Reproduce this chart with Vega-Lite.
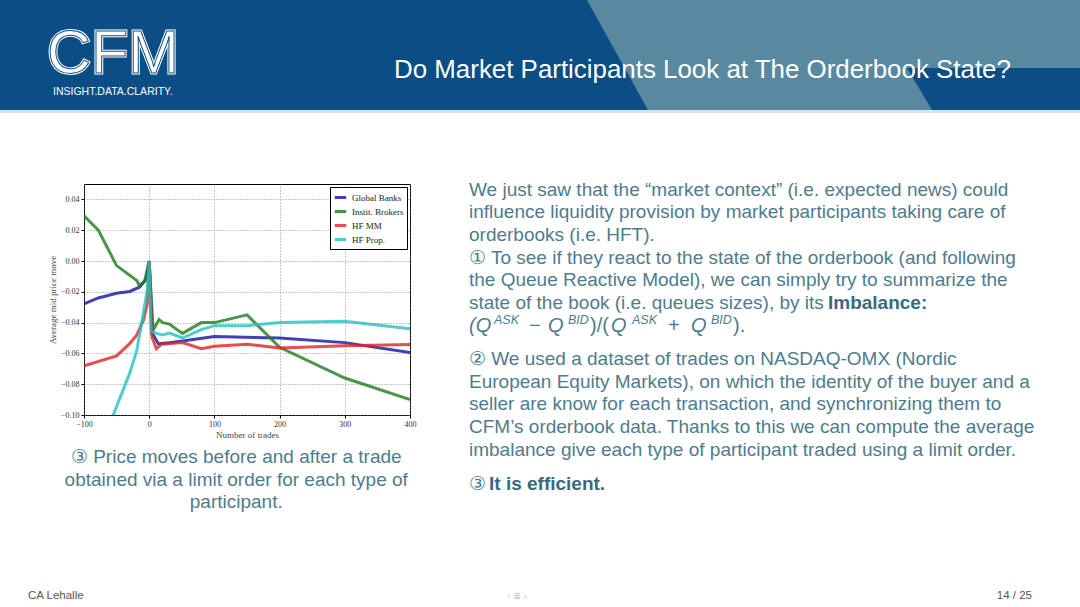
{
  "$schema": "https://vega.github.io/schema/vega-lite/v6.json",
  "background": "white",
  "padding": 0,
  "bounds": "flush",
  "spacing": 0,
  "config": {"view": {"stroke": null}},
  "resolve": {"scale": {"color": "independent"}, "legend": {"color": "independent"}},
  "vconcat": [
    {
      "width": 1080,
      "height": 184,
      "layer": [
        {
          "data": {"values": [{"hx": 0, "top": 0, "bottom": 110}, {"hx": 1080, "top": 0, "bottom": 110}]},
          "mark": {"type": "area", "color": "#0b4d85", "opacity": 1},
          "encoding": {
            "x": {"field": "hx", "type": "quantitative", "scale": {"domain": [0, 1080], "nice": false, "zero": false}, "axis": null},
            "y": {"field": "top", "type": "quantitative", "scale": {"domain": [0, 184], "reverse": true, "nice": false}, "axis": null},
            "y2": {"field": "bottom"}
          }
        },
        {
          "data": {"values": [{"hx": 587, "top": 0, "bottom": 0}, {"hx": 648, "top": 0, "bottom": 110}, {"hx": 1080, "top": 0, "bottom": 110}]},
          "mark": {"type": "area", "color": "#5889a0", "opacity": 1},
          "encoding": {
            "x": {"field": "hx", "type": "quantitative"},
            "y": {"field": "top", "type": "quantitative"},
            "y2": {"field": "bottom"}
          }
        },
        {
          "data": {"values": [{"hx": 907, "top": 68, "bottom": 68}, {"hx": 932, "top": 68, "bottom": 110}, {"hx": 1080, "top": 68, "bottom": 110}]},
          "mark": {"type": "area", "color": "#0b4d85", "opacity": 1},
          "encoding": {
            "x": {"field": "hx", "type": "quantitative"},
            "y": {"field": "top", "type": "quantitative"},
            "y2": {"field": "bottom"}
          }
        },
        {
          "data": {"values": [{"hx": 0, "top": 110, "bottom": 113}, {"hx": 1080, "top": 110, "bottom": 113}]},
          "mark": {"type": "area", "color": "#d3e4f0", "opacity": 1},
          "encoding": {
            "x": {"field": "hx", "type": "quantitative"},
            "y": {"field": "top", "type": "quantitative"},
            "y2": {"field": "bottom"}
          }
        },
        {
          "data": {"values": [{"t": "CFM"}]},
          "mark": {"type": "text", "align": "left", "baseline": "bottom", "font": "Liberation Sans", "fontSize": 61, "fill": "white", "stroke": "white", "strokeWidth": 3},
          "encoding": {
            "x": {"datum": 47, "type": "quantitative"},
            "y": {"datum": 86, "type": "quantitative"},
            "text": {"field": "t"}
          }
        },
        {
          "data": {"values": [{"t": "CFM"}]},
          "mark": {"type": "text", "align": "left", "baseline": "bottom", "font": "Liberation Sans", "fontSize": 61, "fill": "transparent", "stroke": "#0b4d85", "strokeWidth": 1},
          "encoding": {
            "x": {"datum": 47, "type": "quantitative"},
            "y": {"datum": 86, "type": "quantitative"},
            "text": {"field": "t"}
          }
        },
        {
          "data": {"values": [{"t": "INSIGHT.DATA.CLARITY."}]},
          "mark": {"type": "text", "align": "left", "baseline": "middle", "font": "Liberation Sans", "fontSize": 10.5, "color": "white"},
          "encoding": {
            "x": {"datum": 53, "type": "quantitative"},
            "y": {"datum": 92, "type": "quantitative"},
            "text": {"field": "t"}
          }
        },
        {
          "data": {"values": [{"t": "Do Market Participants Look at The Orderbook State?"}]},
          "mark": {"type": "text", "align": "left", "baseline": "middle", "font": "Liberation Sans", "fontSize": 25.9, "color": "white"},
          "encoding": {
            "x": {"datum": 394, "type": "quantitative"},
            "y": {"datum": 70, "type": "quantitative"},
            "text": {"field": "t"}
          }
        }
      ]
    },
    {
      "bounds": "flush",
      "spacing": 0,
      "resolve": {"scale": {"color": "independent"}, "legend": {"color": "independent"}},
      "hconcat": [
        {
          "width": 84,
          "height": 423,
          "data": {"values": [{"t": "CA Lehalle"}]},
          "mark": {"type": "text", "align": "left", "baseline": "middle", "font": "Liberation Sans", "fontSize": 11.5, "color": "#555"},
          "encoding": {
            "x": {"datum": 28, "type": "quantitative", "scale": {"domain": [0, 84], "nice": false, "zero": false}, "axis": null},
            "y": {"datum": 412, "type": "quantitative", "scale": {"domain": [0, 423], "reverse": true, "nice": false}, "axis": null},
            "text": {"field": "t"}
          }
        },
        {
          "width": 326,
          "height": 231,
          "view": {"stroke": "black", "strokeWidth": 1},
          "title": {
            "text": ["③ Price moves before and after a trade", "obtained via a limit order for each type of", "participant."],
            "orient": "bottom",
            "anchor": "middle",
            "frame": "bounds",
            "offset": 9,
            "dx": 4,
            "font": "Liberation Sans",
            "fontSize": 19,
            "fontWeight": "normal",
            "color": "#4e7c8e",
            "lineHeight": 22.5
          },
          "data": {
            "values": [
              {"participant": "Global Banks", "trades": -100, "move": -0.0278},
              {"participant": "Global Banks", "trades": -78, "move": -0.024},
              {"participant": "Global Banks", "trades": -50, "move": -0.021},
              {"participant": "Global Banks", "trades": -30, "move": -0.0198},
              {"participant": "Global Banks", "trades": -15, "move": -0.017},
              {"participant": "Global Banks", "trades": -5, "move": -0.012},
              {"participant": "Global Banks", "trades": 0, "move": 0.0},
              {"participant": "Global Banks", "trades": 5, "move": -0.047},
              {"participant": "Global Banks", "trades": 14, "move": -0.0537},
              {"participant": "Global Banks", "trades": 31, "move": -0.053},
              {"participant": "Global Banks", "trades": 51, "move": -0.052},
              {"participant": "Global Banks", "trades": 100, "move": -0.049},
              {"participant": "Global Banks", "trades": 200, "move": -0.05},
              {"participant": "Global Banks", "trades": 300, "move": -0.053},
              {"participant": "Global Banks", "trades": 400, "move": -0.0595},
              {"participant": "Instit. Brokers", "trades": -100, "move": 0.0293},
              {"participant": "Instit. Brokers", "trades": -78, "move": 0.02},
              {"participant": "Instit. Brokers", "trades": -50, "move": -0.003},
              {"participant": "Instit. Brokers", "trades": -19, "move": -0.0127},
              {"participant": "Instit. Brokers", "trades": -15, "move": -0.016},
              {"participant": "Instit. Brokers", "trades": -7, "move": -0.013},
              {"participant": "Instit. Brokers", "trades": 0, "move": 0.0},
              {"participant": "Instit. Brokers", "trades": 6, "move": -0.045},
              {"participant": "Instit. Brokers", "trades": 15, "move": -0.038},
              {"participant": "Instit. Brokers", "trades": 21, "move": -0.04},
              {"participant": "Instit. Brokers", "trades": 31, "move": -0.041},
              {"participant": "Instit. Brokers", "trades": 51, "move": -0.047},
              {"participant": "Instit. Brokers", "trades": 80, "move": -0.04},
              {"participant": "Instit. Brokers", "trades": 100, "move": -0.04},
              {"participant": "Instit. Brokers", "trades": 150, "move": -0.035},
              {"participant": "Instit. Brokers", "trades": 200, "move": -0.056},
              {"participant": "Instit. Brokers", "trades": 300, "move": -0.076},
              {"participant": "Instit. Brokers", "trades": 400, "move": -0.09},
              {"participant": "HF MM", "trades": -100, "move": -0.068},
              {"participant": "HF MM", "trades": -50, "move": -0.0616},
              {"participant": "HF MM", "trades": -30, "move": -0.0537},
              {"participant": "HF MM", "trades": -19, "move": -0.048},
              {"participant": "HF MM", "trades": -9, "move": -0.0386},
              {"participant": "HF MM", "trades": -3, "move": -0.028},
              {"participant": "HF MM", "trades": 0, "move": 0.0},
              {"participant": "HF MM", "trades": 4, "move": -0.049},
              {"participant": "HF MM", "trades": 11, "move": -0.057},
              {"participant": "HF MM", "trades": 19, "move": -0.054},
              {"participant": "HF MM", "trades": 51, "move": -0.053},
              {"participant": "HF MM", "trades": 80, "move": -0.057},
              {"participant": "HF MM", "trades": 100, "move": -0.0554},
              {"participant": "HF MM", "trades": 150, "move": -0.054},
              {"participant": "HF MM", "trades": 200, "move": -0.0565},
              {"participant": "HF MM", "trades": 300, "move": -0.055},
              {"participant": "HF MM", "trades": 400, "move": -0.0543},
              {"participant": "HF Prop.", "trades": -58, "move": -0.103},
              {"participant": "HF Prop.", "trades": -30, "move": -0.073},
              {"participant": "HF Prop.", "trades": -19, "move": -0.058},
              {"participant": "HF Prop.", "trades": -9, "move": -0.034},
              {"participant": "HF Prop.", "trades": -3, "move": -0.019},
              {"participant": "HF Prop.", "trades": 0, "move": 0.0},
              {"participant": "HF Prop.", "trades": 3, "move": -0.0455},
              {"participant": "HF Prop.", "trades": 11, "move": -0.047},
              {"participant": "HF Prop.", "trades": 21, "move": -0.048},
              {"participant": "HF Prop.", "trades": 31, "move": -0.0468},
              {"participant": "HF Prop.", "trades": 51, "move": -0.05},
              {"participant": "HF Prop.", "trades": 80, "move": -0.0446},
              {"participant": "HF Prop.", "trades": 100, "move": -0.042},
              {"participant": "HF Prop.", "trades": 150, "move": -0.042},
              {"participant": "HF Prop.", "trades": 200, "move": -0.04},
              {"participant": "HF Prop.", "trades": 300, "move": -0.0392},
              {"participant": "HF Prop.", "trades": 400, "move": -0.044}
            ]
          },
          "mark": {"type": "line", "strokeWidth": 3, "opacity": 0.8, "clip": true},
          "encoding": {
            "x": {
              "field": "trades", "type": "quantitative",
              "scale": {"domain": [-100, 400], "nice": false, "zero": false},
              "axis": {
                "values": [-100, 0, 100, 200, 300, 400],
                "title": "Number of trades",
                "domain": false, "labelFlush": false,
                "grid": true, "gridDash": [1, 2], "gridColor": "#777", "gridOpacity": 0.8,
                "ticks": true, "tickSize": 3, "tickColor": "#000",
                "labelFont": "Liberation Serif", "labelFontSize": 8, "labelColor": "#333", "labelPadding": 2,
                "titleFont": "Liberation Serif", "titleFontSize": 9, "titleFontWeight": "normal", "titleColor": "#444", "titlePadding": 2
              }
            },
            "y": {
              "field": "move", "type": "quantitative",
              "scale": {"domain": [-0.1, 0.05], "nice": false, "zero": false},
              "axis": {
                "values": [-0.1, -0.08, -0.06, -0.04, -0.02, 0, 0.02, 0.04],
                "format": ".2f",
                "title": "Average mid price move",
                "domain": false, "labelFlush": false,
                "grid": true, "gridDash": [1, 2], "gridColor": "#777", "gridOpacity": 0.8,
                "ticks": true, "tickSize": 3, "tickColor": "#000",
                "labelFont": "Liberation Serif", "labelFontSize": 8, "labelColor": "#333", "labelPadding": 2,
                "titleFont": "Liberation Serif", "titleFontSize": 9, "titleFontWeight": "normal", "titleColor": "#444", "titlePadding": 3
              }
            },
            "color": {
              "field": "participant", "type": "nominal",
              "scale": {"domain": ["Global Banks", "Instit. Brokers", "HF MM", "HF Prop."], "range": ["#1010a8", "#1e7a1e", "#e02222", "#22c0c0"]},
              "legend": {
                "orient": "top-right", "offset": 3, "title": null,
                "fillColor": "white", "strokeColor": "black", "padding": 3,
                "symbolType": "stroke", "symbolStrokeWidth": 3, "symbolSize": 130, "symbolOpacity": 0.8,
                "labelFont": "Liberation Serif", "labelFontSize": 9, "labelColor": "#222", "rowPadding": 0
              }
            }
          }
        },
        {
          "width": 59,
          "height": 1,
          "data": {"values": []},
          "mark": {"type": "rule", "opacity": 0},
          "encoding": {}
        },
        {
          "width": 611,
          "height": 423,
          "layer": [
            {
              "data": {"values": [
                {"line": 1, "text": "We just saw that the “market context” (i.e. expected news) could"},
                {"line": 2, "text": "influence liquidity provision by market participants taking care of"},
                {"line": 3, "text": "orderbooks (i.e. HFT)."},
                {"line": 4, "text": "① To see if they react to the state of the orderbook (and following"},
                {"line": 5, "text": "the Queue Reactive Model), we can simply try to summarize the"},
                {"line": 6, "text": "state of the book (i.e. queues sizes), by its"},
                {"line": 8.46, "text": "② We used a dataset of trades on NASDAQ-OMX (Nordic"},
                {"line": 9.46, "text": "European Equity Markets), on which the identity of the buyer and a"},
                {"line": 10.46, "text": "seller are know for each transaction, and synchronizing them to"},
                {"line": 11.46, "text": "CFM’s orderbook data. Thanks to this we can compute the average"},
                {"line": 12.46, "text": "imbalance give each type of participant traded using a limit order."},
                {"line": 13.97, "text": "③"}
              ]},
              "mark": {"type": "text", "align": "left", "baseline": "middle", "font": "Liberation Sans", "fontSize": 19, "color": "#4e7c8e"},
              "encoding": {
                "x": {"value": 0},
                "y": {"field": "line", "type": "quantitative", "scale": {"domain": [0.75, 19.38], "reverse": true, "nice": false, "zero": false}, "axis": null},
                "text": {"field": "text"}
              }
            },
            {
              "data": {"values": [{"line": 6, "text": "Imbalance:"}]},
              "mark": {"type": "text", "align": "left", "baseline": "middle", "font": "Liberation Sans", "fontSize": 19, "fontWeight": "bold", "color": "#3a6a7e", "dx": 359},
              "encoding": {"x": {"value": 0}, "y": {"field": "line", "type": "quantitative"}, "text": {"field": "text"}}
            },
            {
              "data": {"values": [{"line": 13.97, "text": "It is efficient."}]},
              "mark": {"type": "text", "align": "left", "baseline": "middle", "font": "Liberation Sans", "fontSize": 19, "fontWeight": "bold", "color": "#3a6a7e", "dx": 20},
              "encoding": {"x": {"value": 0}, "y": {"field": "line", "type": "quantitative"}, "text": {"field": "text"}}
            },
            {
              "data": {"values": [{"line": 7, "text": "(Q"}]},
              "mark": {"type": "text", "align": "left", "baseline": "middle", "font": "Liberation Sans", "fontSize": 20, "fontStyle": "italic", "color": "#4e7c8e", "dx": 0},
              "encoding": {"x": {"value": 0}, "y": {"field": "line", "type": "quantitative"}, "text": {"field": "text"}}
            },
            {
              "data": {"values": [{"line": 7, "text": "ASK"}]},
              "mark": {"type": "text", "align": "left", "baseline": "middle", "font": "Liberation Sans", "fontSize": 12.5, "fontStyle": "italic", "color": "#4e7c8e", "dx": 25, "dy": -5.5},
              "encoding": {"x": {"value": 0}, "y": {"field": "line", "type": "quantitative"}, "text": {"field": "text"}}
            },
            {
              "data": {"values": [{"line": 7, "text": "−"}]},
              "mark": {"type": "text", "align": "left", "baseline": "middle", "font": "Liberation Sans", "fontSize": 20, "color": "#4e7c8e", "dx": 60},
              "encoding": {"x": {"value": 0}, "y": {"field": "line", "type": "quantitative"}, "text": {"field": "text"}}
            },
            {
              "data": {"values": [{"line": 7, "text": "Q"}]},
              "mark": {"type": "text", "align": "left", "baseline": "middle", "font": "Liberation Sans", "fontSize": 20, "fontStyle": "italic", "color": "#4e7c8e", "dx": 79},
              "encoding": {"x": {"value": 0}, "y": {"field": "line", "type": "quantitative"}, "text": {"field": "text"}}
            },
            {
              "data": {"values": [{"line": 7, "text": "BID"}]},
              "mark": {"type": "text", "align": "left", "baseline": "middle", "font": "Liberation Sans", "fontSize": 12.5, "fontStyle": "italic", "color": "#4e7c8e", "dx": 99, "dy": -5.5},
              "encoding": {"x": {"value": 0}, "y": {"field": "line", "type": "quantitative"}, "text": {"field": "text"}}
            },
            {
              "data": {"values": [{"line": 7, "text": ")/("}]},
              "mark": {"type": "text", "align": "left", "baseline": "middle", "font": "Liberation Sans", "fontSize": 20, "color": "#4e7c8e", "dx": 121},
              "encoding": {"x": {"value": 0}, "y": {"field": "line", "type": "quantitative"}, "text": {"field": "text"}}
            },
            {
              "data": {"values": [{"line": 7, "text": "Q"}]},
              "mark": {"type": "text", "align": "left", "baseline": "middle", "font": "Liberation Sans", "fontSize": 20, "fontStyle": "italic", "color": "#4e7c8e", "dx": 142},
              "encoding": {"x": {"value": 0}, "y": {"field": "line", "type": "quantitative"}, "text": {"field": "text"}}
            },
            {
              "data": {"values": [{"line": 7, "text": "ASK"}]},
              "mark": {"type": "text", "align": "left", "baseline": "middle", "font": "Liberation Sans", "fontSize": 12.5, "fontStyle": "italic", "color": "#4e7c8e", "dx": 163, "dy": -5.5},
              "encoding": {"x": {"value": 0}, "y": {"field": "line", "type": "quantitative"}, "text": {"field": "text"}}
            },
            {
              "data": {"values": [{"line": 7, "text": "+"}]},
              "mark": {"type": "text", "align": "left", "baseline": "middle", "font": "Liberation Sans", "fontSize": 20, "color": "#4e7c8e", "dx": 199},
              "encoding": {"x": {"value": 0}, "y": {"field": "line", "type": "quantitative"}, "text": {"field": "text"}}
            },
            {
              "data": {"values": [{"line": 7, "text": "Q"}]},
              "mark": {"type": "text", "align": "left", "baseline": "middle", "font": "Liberation Sans", "fontSize": 20, "fontStyle": "italic", "color": "#4e7c8e", "dx": 222},
              "encoding": {"x": {"value": 0}, "y": {"field": "line", "type": "quantitative"}, "text": {"field": "text"}}
            },
            {
              "data": {"values": [{"line": 7, "text": "BID"}]},
              "mark": {"type": "text", "align": "left", "baseline": "middle", "font": "Liberation Sans", "fontSize": 12.5, "fontStyle": "italic", "color": "#4e7c8e", "dx": 242, "dy": -5.5},
              "encoding": {"x": {"value": 0}, "y": {"field": "line", "type": "quantitative"}, "text": {"field": "text"}}
            },
            {
              "data": {"values": [{"line": 7, "text": ")."}]},
              "mark": {"type": "text", "align": "left", "baseline": "middle", "font": "Liberation Sans", "fontSize": 20, "color": "#4e7c8e", "dx": 264},
              "encoding": {"x": {"value": 0}, "y": {"field": "line", "type": "quantitative"}, "text": {"field": "text"}}
            },
            {
              "data": {"values": [{"line": 18.9, "text": "‹ ≣ ›"}]},
              "mark": {"type": "text", "align": "center", "baseline": "middle", "font": "DejaVu Sans", "fontSize": 9, "color": "#bbbbbb", "dx": 48},
              "encoding": {"x": {"value": 0}, "y": {"field": "line", "type": "quantitative"}, "text": {"field": "text"}}
            },
            {
              "data": {"values": [{"line": 18.9, "text": "14 / 25"}]},
              "mark": {"type": "text", "align": "right", "baseline": "middle", "font": "Liberation Sans", "fontSize": 11.5, "color": "#555", "dx": 563},
              "encoding": {"x": {"value": 0}, "y": {"field": "line", "type": "quantitative"}, "text": {"field": "text"}}
            }
          ]
        }
      ]
    }
  ]
}
